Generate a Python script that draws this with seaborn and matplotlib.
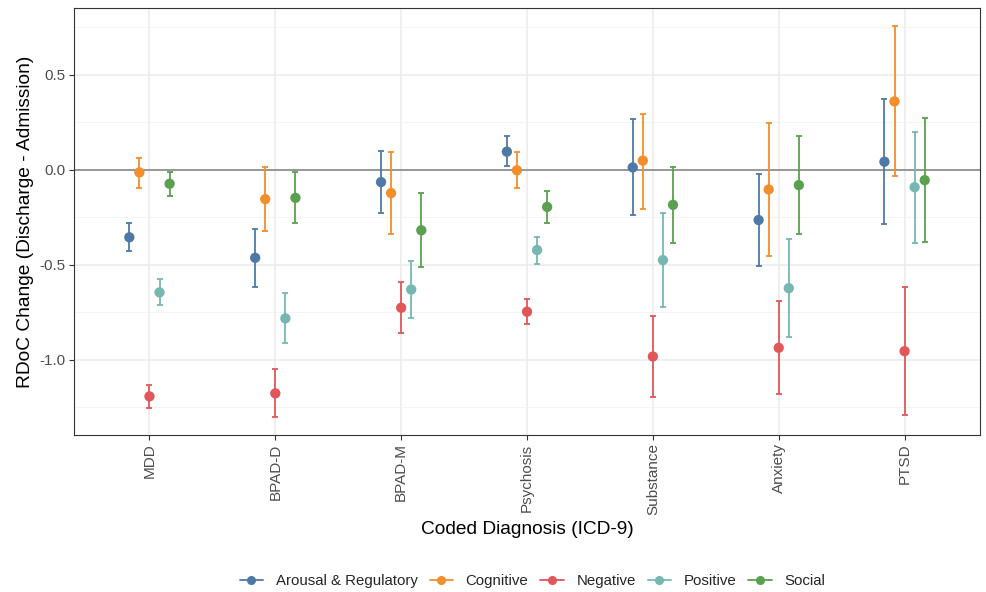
import numpy as np
import pandas as pd
import matplotlib
matplotlib.use('Agg')
import matplotlib.pyplot as plt
from matplotlib.lines import Line2D
from matplotlib.ticker import MultipleLocator
import seaborn as sns

diagnoses = ['MDD', 'BPAD-D', 'BPAD-M', 'Psychosis', 'Substance', 'Anxiety', 'PTSD']
domains = ['Arousal & Regulatory', 'Cognitive', 'Negative', 'Positive', 'Social']
colors = ['#4E79A7', '#F28E2B', '#E15759', '#76B7B2', '#59A14F']

# mean change per domain, one value per diagnosis
arousal_mean = [-0.356, -0.464, -0.065, 0.095, 0.012, -0.265, 0.042]
arousal_lo = [-0.43, -0.617, -0.229, 0.021, -0.238, -0.506, -0.284]
arousal_hi = [-0.28, -0.312, 0.099, 0.176, 0.265, -0.023, 0.370]

cognitive_mean = [-0.014, -0.155, -0.123, -0.003, 0.048, -0.104, 0.360]
cognitive_lo = [-0.095, -0.323, -0.339, -0.095, -0.206, -0.453, -0.034]
cognitive_hi = [0.063, 0.014, 0.092, 0.095, 0.296, 0.247, 0.755]

negative_mean = [-1.194, -1.178, -0.727, -0.748, -0.984, -0.938, -0.956]
negative_lo = [-1.256, -1.305, -0.862, -0.813, -1.196, -1.183, -1.293]
negative_hi = [-1.132, -1.048, -0.593, -0.683, -0.772, -0.691, -0.619]

positive_mean = [-0.646, -0.783, -0.631, -0.423, -0.476, -0.624, -0.092]
positive_lo = [-0.713, -0.914, -0.783, -0.494, -0.725, -0.882, -0.385]
positive_hi = [-0.577, -0.651, -0.480, -0.354, -0.226, -0.367, 0.201]

social_mean = [-0.074, -0.148, -0.319, -0.196, -0.185, -0.081, -0.055]
social_lo = [-0.136, -0.28, -0.513, -0.280, -0.386, -0.339, -0.379]
social_hi = [-0.011, -0.014, -0.125, -0.111, 0.014, 0.178, 0.273]

means = [arousal_mean, cognitive_mean, negative_mean, positive_mean, social_mean]
lows = [arousal_lo, cognitive_lo, negative_lo, positive_lo, social_lo]
highs = [arousal_hi, cognitive_hi, negative_hi, positive_hi, social_hi]

rows = []
for d, (m, lo, hi) in enumerate(zip(means, lows, highs)):
    for i, dx in enumerate(diagnoses):
        rows.append({'diagnosis': dx, 'domain': domains[d], 'mean': m[i],
                     'lo': lo[i], 'hi': hi[i],
                     # dodge: 5 groups spread over 0.32 of a category
                     'x': i + (d - 2) * 0.08})
df = pd.DataFrame(rows)

sns.set_style('white')
plt.rcParams['font.family'] = ['Liberation Sans', 'DejaVu Sans']

fig, ax = plt.subplots(figsize=(9.86, 5.92), dpi=100)
fig.subplots_adjust(left=0.075, right=0.994, top=0.9865, bottom=0.265)

# grid like theme_bw
ax.yaxis.set_major_locator(MultipleLocator(0.5))
ax.yaxis.set_minor_locator(MultipleLocator(0.25))
ax.grid(which='major', axis='both', color='#EBEBEB', lw=1.1, zorder=0)
ax.grid(which='minor', axis='y', color='#F2F2F2', lw=0.6, zorder=0)
ax.set_axisbelow(True)

ax.axhline(0, color='#7F7F7F', lw=1.1, zorder=1)

for d, dom in enumerate(domains):
    sub = df[df['domain'] == dom]
    ax.errorbar(sub['x'], sub['mean'],
                yerr=[sub['mean'] - sub['lo'], sub['hi'] - sub['mean']],
                fmt='none', ecolor=colors[d], elinewidth=1.3,
                capsize=2, capthick=1.3, zorder=2)

sns.scatterplot(data=df, x='x', y='mean', hue='domain', hue_order=domains,
                palette=colors, s=55, edgecolor='none', legend=False,
                ax=ax, zorder=3)

ax.set_xticks(range(len(diagnoses)))
ax.set_xticklabels(diagnoses, rotation=90, fontsize=11, color='#4D4D4D')
ax.set_xlim(-0.6, len(diagnoses) - 0.4)
ax.set_ylim(-1.398, 0.852)
ax.set_yticks([-1.0, -0.5, 0.0, 0.5])
ax.set_yticklabels(['-1.0', '-0.5', '0.0', '0.5'], fontsize=11, color='#4D4D4D')
ax.tick_params(axis='both', which='major', length=3.5, width=0.8, color='#333333',
               direction='out', bottom=True, left=True, pad=2.5)
ax.tick_params(axis='y', which='minor', length=0)

for sp in ax.spines.values():
    sp.set_color('#333333')
    sp.set_linewidth(0.8)

ax.set_xlabel('Coded Diagnosis (ICD-9)', fontsize=13.75, color='black', labelpad=4)
ax.set_ylabel('RDoC Change (Discharge - Admission)', fontsize=13.75, color='black',
              labelpad=4)

handles = [Line2D([0], [0], color=c, lw=1.3, marker='o', markersize=5.5)
           for c in colors]
fig.legend(handles, domains, loc='center', bbox_to_anchor=(0.54, 0.018),
           ncol=5, frameon=False, fontsize=10.8, handlelength=1.55,
           handletextpad=0.85, columnspacing=0.8)

plt.savefig('out.png', dpi=100)
plt.close()
